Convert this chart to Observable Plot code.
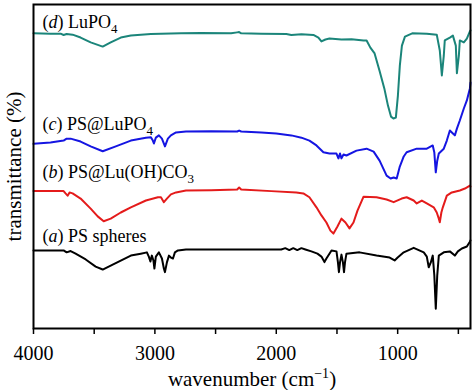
<!DOCTYPE html>
<html><head><meta charset="utf-8">
<script src="https://cdn.jsdelivr.net/npm/d3@7"></script>
<script src="https://cdn.jsdelivr.net/npm/@observablehq/plot@0.6"></script>
<style>body{margin:0;background:#fff} svg{display:block}</style>
</head><body><div id="chart"></div>
<script>
const seriesNames = ["(a) PS spheres", "(b) PS@Lu(OH)CO3", "(c) PS@LuPO4", "(d) LuPO4"];
const seriesColors = ["#000000", "#e41b1b", "#1515e2", "#1b857a"];

const wnA = [4000,3752,3727,3694,3653,3570,3488,3430,3364,3306, 3198,3116,3066,3050,3037,3025,3012,3004,2992,2967, 2942,2926,2917,2901,2884,2868,2851,2835,2810,2744, 2289,1959,1926,1893,1860,1827,1793,1760,1711,1661, 1628,1603,1587,1545,1504,1492,1484,1475,1463,1451, 1442,1434,1422,1314,1174,1066,1025,1000,950,868, 785,760,744,727,711,698,686,674,661,620, 570,529,504,471,430,405,400];
const tA = [24.1,24.1,23.5,23.9,23.1,21.3,19.1,18.2,19.4,20.5, 22.5,23.1,23.5,22.2,20.7,22.5,21.0,18.5,22.2,23.5, 21.6,18.5,17.4,20.4,22.5,21.9,21.6,23.5,24.1,24.4, 24.4,24.4,24.8,24.2,24.8,24.2,24.8,24.4,23.8,23.1, 22.2,20.5,21.6,24.1,23.8,20.4,17.4,20.4,22.8,20.4, 17.4,20.4,23.1,23.5,22.5,21.9,21.0,21.9,23.5,24.9, 23.5,22.2,18.9,20.4,22.5,16.4,6.1,16.4,22.5,23.5, 23.8,22.5,23.8,24.7,25.3,26.8,27.2];

const wnB = [4000,3860,3752,3736,3719,3703,3678,3612,3529,3471, 3422,3364,3281,3198,3074,2975,2950,2926,2901,2868, 2826,2744,2537,2322,2306,2289,2041,1835,1777,1727, 1669,1628,1587,1554,1529,1496,1463,1430,1397,1364, 1331,1281,1174,1091,1033,967,926,868,843,801, 760,703,678,661,653,640,628,595,554,488, 446,405,400];
const tB = [42.4,42.4,42.4,41.7,41.0,42.0,41.7,40.1,37.0,34.6, 33.1,33.9,35.8,37.4,39.5,40.5,40.5,39.0,40.1,41.4, 42.0,42.6,42.7,42.9,43.5,42.9,42.4,42.0,41.7,40.5, 37.4,34.9,32.7,30.2,29.3,31.5,33.9,32.7,30.9,32.7, 36.4,40.7,40.5,39.8,39.0,40.1,40.5,39.5,38.6,39.5, 38.6,37.4,35.8,33.9,32.8,35.8,37.4,41.0,42.0,42.6, 43.2,44.1,43.8];

const wnC = [4000,3860,3752,3727,3694,3612,3529,3430,3322,3198, 3074,3033,3017,3008,2992,2967,2942,2917,2893,2868, 2826,2744,2537,2322,2306,2289,2124,2000,1876,1793, 1727,1669,1612,1562,1504,1488,1475,1463,1446,1422, 1339,1256,1198,1149,1091,1058,1033,1008,984,950, 926,843,760,711,698,686,674,661,620,595, 570,545,529,512,488,455,430,405,400];
const tC = [57.0,57.4,58.0,58.6,58.6,57.7,56.2,54.7,56.2,58.0, 58.9,59.0,58.0,57.1,58.9,59.6,58.6,56.2,58.6,59.6, 60.5,60.8,60.9,60.8,61.1,60.8,60.5,60.2,59.6,58.9, 58.0,56.5,54.4,54.0,54.0,52.5,54.0,52.5,53.7,53.4, 54.9,55.5,54.6,51.8,47.2,46.3,46.6,46.3,49.8,53.1, 54.4,55.5,55.5,56.5,54.3,48.2,51.8,54.0,55.5,58.0, 61.1,60.2,59.6,61.7,64.2,67.9,70.4,74.1,75.9];

const wnD = [4000,3860,3777,3752,3727,3678,3612,3529,3430,3364, 3281,3198,3033,2785,2620,2372,2322,2306,2289,2124, 1917,1876,1793,1694,1653,1628,1595,1562,1463,1380, 1281,1256,1225,1190,1150,1110,1080,1055,1035,1015, 998,982,965,940,880,760,678,653,636,620, 612,570,545,521,512,496,488,455,430,405, 400];
const tD = [91.1,91.0,91.0,90.6,90.9,90.7,89.8,88.3,87.0,88.3, 89.8,90.4,90.9,91.1,91.2,91.1,91.4,91.5,91.1,91.0, 90.9,90.6,90.8,90.6,89.8,88.6,89.2,89.5,89.2,89.3, 88.9,88.9,86.7,84.9,79.6,74.1,68.8,65.4,64.8,65.1, 71.9,81.2,87.3,90.1,91.1,91.0,90.7,85.8,78.1,84.2, 88.9,89.8,90.4,87.3,78.8,84.2,88.9,88.3,89.5,91.7, 92.0];

const majorTicks = [4000, 3000, 2000, 1000];
const tickLabels = ["4000", "3000", "2000", "1000"];
const minorTicks = [3500, 2500, 1500, 500];
const labelWn = [3926, 3926, 3926, 3926];
const labelT = [26.8, 46.3, 61.4, 92.9];
const xLabel = "wavenumber (cm⁻¹)";
const yLabel = "transmittance (%)";

const wns = [wnA, wnB, wnC, wnD];
const ts = [tA, tB, tC, tD];
const rows = seriesNames.flatMap((name, i) => wns[i].map((w, j) => ({series: name, wn: w, t: ts[i][j]})));
const labelRows = seriesNames.map((name, i) => ({name, wn: labelWn[i], t: labelT[i]}));

const svg = Plot.plot({
  width: 474, height: 390,
  marginTop: 4, marginRight: 4, marginBottom: 62, marginLeft: 33,
  style: {fontFamily: '"Liberation Serif", "Times New Roman", serif', background: "white", color: "black"},
  x: {domain: [4000, 400]},
  y: {domain: [0, 100], axis: null},
  color: {domain: seriesNames, range: seriesColors},
  marks: [
    Plot.line(rows, {x: "wn", y: "t", z: "series", stroke: "series", strokeWidth: 2}),
    Plot.frame({stroke: "black", strokeWidth: 2}),
    Plot.axisX({ticks: majorTicks, tickFormat: d => tickLabels[majorTicks.indexOf(d)], tickSize: 6, tickPadding: 11, fontSize: 20, strokeWidth: 1.5, label: null}),
    Plot.axisX({ticks: minorTicks, tickFormat: () => "", tickSize: 6, strokeWidth: 1.5, label: null}),
    Plot.text(labelRows, {x: "wn", y: "t", text: "name", textAnchor: "start", lineAnchor: "bottom", fontSize: 18, fill: "black"}),
    Plot.text([xLabel], {text: d => d, frameAnchor: "bottom", textAnchor: "middle", lineAnchor: "middle", dy: 51, fontSize: 21, fill: "black"}),
    Plot.text([yLabel], {text: d => d, frameAnchor: "left", textAnchor: "middle", lineAnchor: "middle", dx: -19, rotate: -90, fontSize: 21, fill: "black"})
  ]
});

// rich text: italic letters and sub/superscripts
d3.select(svg).selectAll("text").each(function() {
  const s = this.textContent;
  const el = d3.select(this);
  if (seriesNames.includes(s)) {
    const m = /^\((\w)\)\s*(.*)$/.exec(s);
    el.text(null);
    el.append("tspan").text("(");
    el.append("tspan").attr("font-style", "italic").text(m[1]);
    el.append("tspan").text(") ");
    let shifted = false;
    m[2].split(/(\d+)/).forEach(part => {
      if (!part) return;
      if (/^\d+$/.test(part)) {
        el.append("tspan").attr("dy", 5).attr("font-size", 13).text(part);
        shifted = true;
      } else {
        const t = el.append("tspan").text(part);
        if (shifted) { t.attr("dy", -5); shifted = false; }
      }
    });
  } else if (s === xLabel) {
    const [pre, post] = s.split("⁻¹");
    el.text(null);
    el.append("tspan").text(pre);
    el.append("tspan").attr("dy", -8).attr("font-size", 14).text("−1");
    el.append("tspan").attr("dy", 8).text(post);
  }
});

document.getElementById("chart").appendChild(svg);
</script>
</body></html>
